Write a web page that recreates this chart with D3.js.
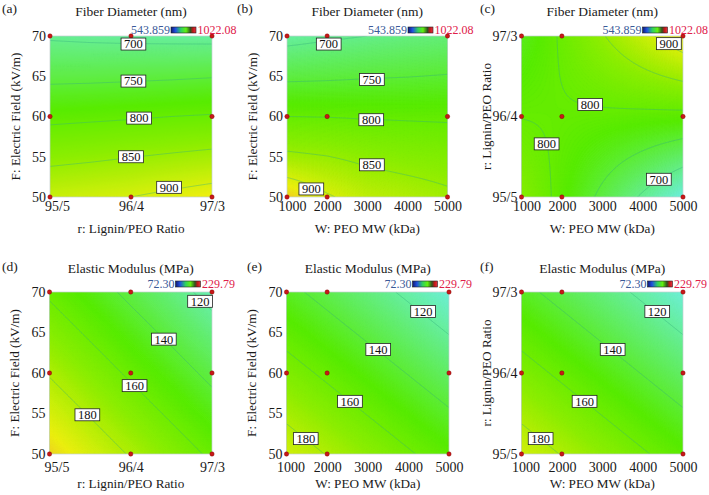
<!DOCTYPE html>
<html><head><meta charset="utf-8">
<script src="https://cdn.jsdelivr.net/npm/d3@7"></script>
<style>body{margin:0;background:#fff}svg{display:block}svg text{font-family:"Liberation Serif","Times New Roman",Times,serif}</style>
</head><body><svg id="c" width="709" height="495"></svg>
<script>
// ---------------- data ----------------
const fiberRange = [543.859, 1022.08];
const fiberRangeText = ["543.859", "1022.08"];
const modulusRange = [72.30, 229.79];
const modulusRangeText = ["72.30", "229.79"];

const ratioTickPos = [0, 1, 2];
const ratioTickLabels = ["95/5", "96/4", "97/3"];
const mwTicks = [1000, 2000, 3000, 4000, 5000];
const fieldTicks = [50, 55, 60, 65, 70];

const ratioGrid = [0, 0.5, 1, 1.5, 2];
const mwGrid = [1000, 2000, 3000, 4000, 5000];
const fieldGrid = [50, 55, 60, 65, 70];

// rows: lowest y -> highest y ; columns: lowest x -> highest x
const fiberA = [
  [888, 894, 900, 910, 920],
  [838, 843, 849, 855, 861],
  [790, 793, 796, 800, 803],
  [740, 741, 743, 745, 748],
  [695, 692, 690, 689, 688]
];
const fiberB = [
  [940, 905, 880, 870, 858],
  [858, 851, 840, 833, 828],
  [800, 799, 797, 796, 795],
  [742, 744, 747, 749, 752],
  [686, 694, 700, 706, 710]
];
const fiberC = [
  [834, 788, 741, 694, 648],
  [817, 792, 767, 743, 718],
  [799, 796.5, 794, 791, 789],
  [781.5, 801, 820, 840, 859],
  [764, 805, 847, 888, 929]
];
const modulusD = [
  [201.5, 189.5, 178.8, 168.2, 157.5],
  [189.5, 178.9, 168.2, 157.6, 146.9],
  [178.9, 168.3, 157.6, 147.0, 136.3],
  [168.3, 157.7, 147.0, 136.4, 125.7],
  [157.7, 147.1, 136.4, 125.8, 115.1]
];
const modulusE = [
  [188.3, 179.4, 170.5, 161.6, 152.7],
  [177.2, 168.3, 159.4, 150.5, 141.6],
  [166.1, 157.2, 148.3, 139.4, 130.5],
  [155.0, 146.1, 137.2, 128.3, 119.4],
  [143.9, 135.0, 126.1, 117.2, 108.3]
];
const modulusF = [
  [188.3, 179.4, 170.5, 161.6, 152.7],
  [177.2, 168.3, 159.4, 150.5, 141.6],
  [166.1, 157.2, 148.3, 139.4, 130.5],
  [155.0, 146.1, 137.2, 128.3, 119.4],
  [143.9, 135.0, 126.1, 117.2, 108.3]
];

const fiberLevels = [700, 750, 800, 850, 900];
const modulusLevels = [120, 140, 160, 180];

// contour label anchors [x, y, level]
const labelsA = [[1.03, 69.0, 700], [1.03, 64.4, 750], [1.1, 59.8, 800], [1.0, 55.0, 850], [1.47, 51.2, 900]];
const labelsB = [[2040, 69.0, 700], [3116, 64.6, 750], [3100, 59.6, 800], [3116, 54.0, 850], [1606, 51.0, 900]];
const labelsC = [[4651, 1.905, 900], [2701, 1.15, 800], [1622, 0.66, 800], [4402, 0.22, 700]];
const labelsD = [[1.853, 68.85, 120], [1.407, 64.18, 140], [1.047, 58.44, 160], [0.466, 54.84, 180]];
const labelsE = [[4362, 67.6, 120], [3258, 62.9, 140], [2562, 56.5, 160], [1474, 51.9, 180]];
const labelsF = [[4362, 1.76, 120], [3258, 1.29, 140], [2562, 0.65, 160], [1474, 0.19, 180]];

// design points
const pointsRF = [[0,70],[1,70],[2,70],[0,60],[1,60],[2,60],[0,50],[1,50],[2,50]];
const pointsWF = [[1000,70],[2000,70],[5000,70],[1000,60],[2000,60],[5000,60],[1000,50],[2000,50],[5000,50]];
const pointsWR = [[1000,2],[2000,2],[5000,2],[1000,1],[2000,1],[5000,1],[1000,0],[2000,0],[5000,0]];

// ---------------- drawing ----------------
const FONT = '"Liberation Serif","Times New Roman",Times,serif';
const svg = d3.select("#c");
const defs = svg.append("defs");

const palette = d3.scaleLinear()
  .domain([0, 0.1, 0.2, 0.5, 0.62, 0.78, 0.92, 1])
  .range(["#1a1aa0", "#3080f0", "#70f0ee", "#58ec00", "#8cee00", "#ecef10", "#f09050", "#e82030"])
  .clamp(true);

const grad = defs.append("linearGradient").attr("id", "cbar");
[["0%","#101a70"],["18%","#2050e0"],["40%","#30d060"],["60%","#60f010"],["78%","#305020"],["88%","#c01818"],["100%","#e83040"]]
  .forEach(s => grad.append("stop").attr("offset", s[0]).attr("stop-color", s[1]));

const R = "r: Lignin/PEO Ratio", W = "W: PEO MW (kDa)", F = "F: Electric Field (kV/m)";
const panels = [
  {tag:"(a)", tagX:2, title:"Fiber Diameter (nm)", range:fiberRange, rt:fiberRangeText, gx:ratioGrid, gy:fieldGrid, vals:fiberA, levels:fiberLevels, labels:labelsA, pts:pointsRF,
   xDom:[0,2], yDom:[50,70], xt:ratioTickPos, xtl:ratioTickLabels, firstShift:7, yt:fieldTicks, ytl:fieldTicks, xTitle:R, yTitle:F, box:[50,36,212,197], row:0},
  {tag:"(b)", tagX:237, title:"Fiber Diameter (nm)", range:fiberRange, rt:fiberRangeText, gx:mwGrid, gy:fieldGrid, vals:fiberB, levels:fiberLevels, labels:labelsB, pts:pointsWF,
   xDom:[1000,5000], yDom:[50,70], xt:mwTicks, xtl:mwTicks, firstShift:5, yt:fieldTicks, ytl:fieldTicks, xTitle:W, yTitle:F, box:[287,36,447.5,197], row:0},
  {tag:"(c)", tagX:480, title:"Fiber Diameter (nm)", range:fiberRange, rt:fiberRangeText, gx:mwGrid, gy:ratioGrid, vals:fiberC, levels:fiberLevels, labels:labelsC, pts:pointsWR,
   xDom:[1000,5000], yDom:[0,2], xt:mwTicks, xtl:mwTicks, firstShift:5, yt:ratioTickPos, ytl:ratioTickLabels, xTitle:W, yTitle:R, box:[521.5,36,683,197], row:0},
  {tag:"(d)", tagX:2, title:"Elastic Modulus (MPa)", range:modulusRange, rt:modulusRangeText, gx:ratioGrid, gy:fieldGrid, vals:modulusD, levels:modulusLevels, labels:labelsD, pts:pointsRF,
   xDom:[0,2], yDom:[50,70], xt:ratioTickPos, xtl:ratioTickLabels, firstShift:7, yt:fieldTicks, ytl:fieldTicks, xTitle:R, yTitle:F, box:[49.5,292,212,454], row:1},
  {tag:"(e)", tagX:247, title:"Elastic Modulus (MPa)", range:modulusRange, rt:modulusRangeText, gx:mwGrid, gy:fieldGrid, vals:modulusE, levels:modulusLevels, labels:labelsE, pts:pointsWF,
   xDom:[1000,5000], yDom:[50,70], xt:mwTicks, xtl:mwTicks, firstShift:4, yt:fieldTicks, ytl:fieldTicks, xTitle:W, yTitle:F, box:[286.5,292,449,454], row:1},
  {tag:"(f)", tagX:480, title:"Elastic Modulus (MPa)", range:modulusRange, rt:modulusRangeText, gx:mwGrid, gy:ratioGrid, vals:modulusF, levels:modulusLevels, labels:labelsF, pts:pointsWR,
   xDom:[1000,5000], yDom:[0,2], xt:mwTicks, xtl:mwTicks, firstShift:4, yt:ratioTickPos, ytl:ratioTickLabels, xTitle:W, yTitle:R, box:[521.5,292,683,454], row:1}
];
const rowCfg = [
  {xTickPad:4.5, xTitleOff:36, titleY:16, tagY:13, cbDx:121, cbDy:-9},
  {xTickPad:8, xTitleOff:34, titleY:273, tagY:271, cbDx:126, cbDy:-11}
];

function bilinear(gx, gy, vals, xv, yv) {
  const k = Math.max(0, Math.min(gx.length - 2, d3.bisectRight(gx, xv) - 1));
  const l = Math.max(0, Math.min(gy.length - 2, d3.bisectRight(gy, yv) - 1));
  const t = (xv - gx[k]) / (gx[k+1] - gx[k]);
  const s = (yv - gy[l]) / (gy[l+1] - gy[l]);
  return (1-t)*(1-s)*vals[l][k] + t*(1-s)*vals[l][k+1] + (1-t)*s*vals[l+1][k] + t*s*vals[l+1][k+1];
}

panels.forEach((p, pi) => {
  const rc = rowCfg[p.row];
  const [x0, y0, x1, y1] = p.box;
  const x = d3.scaleLinear().domain(p.xDom).range([x0, x1]);
  const y = d3.scaleLinear().domain(p.yDom).range([y1, y0]);
  const color = v => palette((v - p.range[0]) / (p.range[1] - p.range[0]));
  const g = svg.append("g");

  const clipId = "clip" + pi;
  defs.append("clipPath").attr("id", clipId).append("rect")
    .attr("x", x0).attr("y", y0).attr("width", x1 - x0).attr("height", y1 - y0);

  const N = 121;
  const field = new Float64Array(N * N);
  for (let j = 0; j < N; j++) {
    const yv = p.yDom[1] - j / (N - 1) * (p.yDom[1] - p.yDom[0]);
    for (let i = 0; i < N; i++) {
      const xv = p.xDom[0] + i / (N - 1) * (p.xDom[1] - p.xDom[0]);
      field[j * N + i] = bilinear(p.gx, p.gy, p.vals, xv, yv);
    }
  }
  const toX = cx => x(p.xDom[0] + Math.max(0, Math.min(1, (cx - 0.5) / (N - 1))) * (p.xDom[1] - p.xDom[0]));
  const toY = cy => y(p.yDom[1] - Math.max(0, Math.min(1, (cy - 0.5) / (N - 1))) * (p.yDom[1] - p.yDom[0]));
  const proj = d3.geoTransform({ point(cx, cy) { this.stream.point(toX(cx), toY(cy)); } });
  const path = d3.geoPath(proj);

  const [vmin, vmax] = d3.extent(field);
  const step = (vmax - vmin) / 160;
  const thr = d3.range(vmin + step, vmax, step);
  const bands = d3.contours().size([N, N]).thresholds(thr)(field);

  const plot = g.append("g").attr("clip-path", `url(#${clipId})`);
  plot.append("rect").attr("x", x0).attr("y", y0).attr("width", x1 - x0).attr("height", y1 - y0)
    .attr("fill", color(vmin + step / 2));
  plot.selectAll("path.band").data(bands).join("path").attr("class", "band")
    .attr("d", path).attr("fill", d => color(d.value + step / 2))
    .attr("stroke", d => color(d.value + step / 2)).attr("stroke-width", 0.4);

  // contour lines
  const lines = d3.contours().size([N, N]).thresholds(p.levels)(field);
  const lo = 0.5 + 1e-6, hi = N - 0.5 - 1e-6;
  const edge = (a, b) => (a[0] <= lo && b[0] <= lo) || (a[0] >= hi && b[0] >= hi) || (a[1] <= lo && b[1] <= lo) || (a[1] >= hi && b[1] >= hi);
  lines.forEach(mp => {
    let d = "";
    mp.coordinates.forEach(poly => poly.forEach(ring => {
      for (let k = 0; k < ring.length - 1; k++) {
        const a = ring[k], b = ring[k + 1];
        if (edge(a, b)) continue;
        d += `M${toX(a[0]).toFixed(2)},${toY(a[1]).toFixed(2)}L${toX(b[0]).toFixed(2)},${toY(b[1]).toFixed(2)}`;
      }
    }));
    plot.append("path").attr("d", d).attr("fill", "none")
      .attr("stroke", "#34b080").attr("stroke-width", 0.6).attr("stroke-opacity", 0.7);
  });

  // border
  g.append("rect").attr("x", x0).attr("y", y0).attr("width", x1 - x0).attr("height", y1 - y0)
    .attr("fill", "none").attr("stroke", "#c4d0d0").attr("stroke-width", 0.7);

  // design points
  g.selectAll("circle.pt").data(p.pts).join("circle").attr("class", "pt")
    .attr("cx", d => x(d[0])).attr("cy", d => y(d[1])).attr("r", 2.2)
    .attr("fill", "#c81818").attr("stroke", "#7a0000").attr("stroke-width", 0.4);

  // contour labels
  p.labels.forEach(l => {
    const lg = g.append("g").attr("transform", `translate(${x(l[0])},${y(l[1])})`);
    const r = lg.append("rect");
    const t = lg.append("text").text(l[2]).attr("text-anchor", "middle").attr("dy", "0.35em")
      .style("font-family", FONT).attr("font-size", 12.5).attr("fill", "#111");
    const w = t.node().getComputedTextLength() + 6;
    r.attr("x", -w / 2).attr("y", -6).attr("width", w).attr("height", 12)
      .attr("fill", "#fff").attr("stroke", "#222").attr("stroke-width", 0.8);
  });

  // axes
  const xa = g.append("g").attr("transform", `translate(0,${y1 + rc.xTickPad})`)
    .call(d3.axisBottom(x).tickValues(p.xt).tickFormat((d, i) => p.xtl[i]).tickSize(0).tickPadding(0));
  xa.select(".domain").remove();
  xa.attr("font-size", 14);
  xa.selectAll("text").style("font-family", FONT).attr("fill", "#1a1a1a")
    .attr("dx", (d, i) => i === 0 ? p.firstShift : 0);

  const ya = g.append("g").attr("transform", `translate(${x0},0)`)
    .call(d3.axisLeft(y).tickValues(p.yt).tickFormat((d, i) => p.ytl[i]).tickSize(0).tickPadding(4));
  ya.select(".domain").remove();
  ya.attr("font-size", 14);
  ya.selectAll("text").style("font-family", FONT).attr("fill", "#1a1a1a");

  // axis titles
  g.append("text").attr("x", (x0 + x1) / 2).attr("y", y1 + rc.xTitleOff).attr("text-anchor", "middle")
    .style("font-family", FONT).attr("font-size", 13.2).attr("fill", "#1a1a1a").text(p.xTitle);
  g.append("text").attr("transform", `translate(${x0 - 30.5},${(y0 + y1) / 2}) rotate(-90)`).attr("text-anchor", "middle")
    .style("font-family", FONT).attr("font-size", 13.2).attr("fill", "#1a1a1a").text(p.yTitle);

  // title and tag
  g.append("text").attr("x", (x0 + x1) / 2).attr("y", rc.titleY).attr("text-anchor", "middle")
    .style("font-family", FONT).attr("font-size", 13.5).attr("fill", "#1a1a1a").text(p.title);
  g.append("text").attr("x", p.tagX).attr("y", rc.tagY)
    .style("font-family", FONT).attr("font-size", 13.5).attr("fill", "#1a1a1a").text(p.tag);

  // colour bar
  const cbx = x0 + rc.cbDx, cby = y0 + rc.cbDy;
  g.append("rect").attr("x", cbx).attr("y", cby).attr("width", 25).attr("height", 6)
    .attr("fill", "url(#cbar)").attr("stroke", "#222").attr("stroke-width", 0.6);
  g.append("text").attr("x", cbx - 1).attr("y", cby + 7).attr("text-anchor", "end")
    .style("font-family", FONT).attr("font-size", 12).attr("fill", "#3a5a98").text(p.rt[0]);
  g.append("text").attr("x", cbx + 26.5).attr("y", cby + 7)
    .style("font-family", FONT).attr("font-size", 12).attr("fill", "#e0204a").text(p.rt[1]);
});
</script></body></html>
